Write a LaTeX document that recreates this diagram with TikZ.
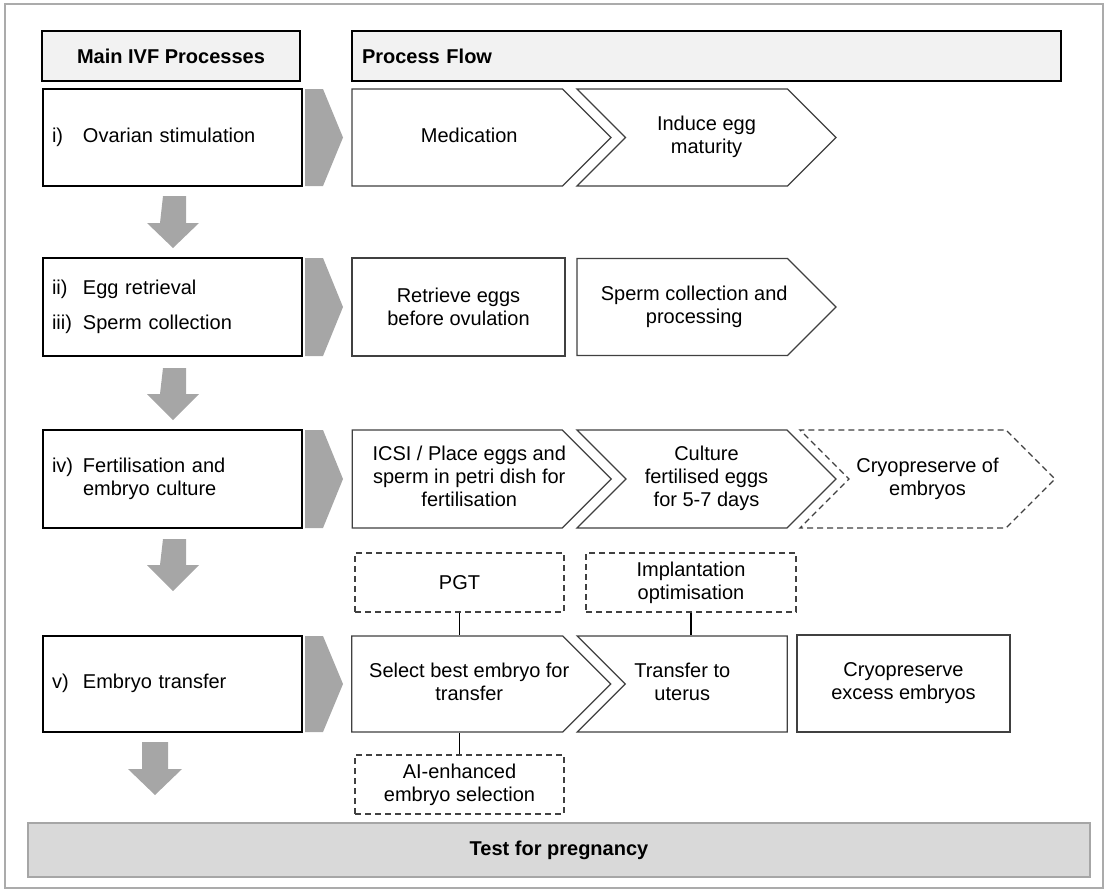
\documentclass[tikz,border=0pt]{standalone}
\usepackage{fontspec}
\setmainfont{Liberation Sans}
\usetikzlibrary{shapes.symbols}
\definecolor{arrowgray}{HTML}{A6A6A6}
\definecolor{framegray}{HTML}{ABABAB}
\definecolor{headfill}{HTML}{F2F2F2}
\definecolor{barfill}{HTML}{D9D9D9}
\definecolor{procgray}{HTML}{404040}
\newcommand\procfont{\fontsize{20pt}{23pt}\selectfont}
\newcommand\ctext[1]{\begin{tabular}{@{}c@{}}#1\end{tabular}}
\tikzset{
  mainbox/.style={draw=black,line width=1.8pt,inner xsep=9pt,text width=241pt,
    align=left,minimum height=97pt,font=\procfont},
  headbox/.style={draw=black,line width=1.8pt,fill=headfill,minimum height=50pt,
    font=\procfont\bfseries},
  procbox/.style={draw=procgray,line width=1.3pt,fill=white,minimum height=97pt,
    inner sep=0pt,font=\procfont},
  chevbox/.style={procbox,shape=signal,signal pointer angle=90,signal to=east,
    minimum width=259pt},
  notchbox/.style={chevbox,signal from=west},
  optbox/.style={draw=procgray,line width=1.3pt,dash pattern=on 6pt off 4pt,
    minimum width=209pt,minimum height=59pt,inner sep=0pt,align=center,font=\procfont},
  conn/.style={line width=1.5pt}
}
\begin{document}
\begin{tikzpicture}[x=1pt,y=-1pt]
\useasboundingbox (0,0) rectangle (1107,889);
\draw[framegray,line width=2pt] (5,4) rectangle (1103,888);
% column headers
\node[headbox,minimum width=258pt] (mainhd) at (171,56) {Main IVF Processes};
\node[headbox,minimum width=709pt,text width=689pt,align=left] (flowhd) at (706.5,56) {Process Flow};
% main processes
\node[mainbox] (ovar) at (172.5,137.5) {\begin{tabular}{@{}p{31pt}@{}l@{}}i) & Ovarian stimulation\end{tabular}};
\node[mainbox,minimum height=98pt] (retr) at (172.5,307) {\begin{tabular}{@{}p{31pt}@{}l@{}}ii) & Egg retrieval\\[12pt] iii) & Sperm collection\end{tabular}};
\node[mainbox,minimum height=98pt] (fert) at (172.5,479) {\begin{tabular}{@{}p{31pt}@{}l@{}}iv) & Fertilisation and\\ & embryo culture\end{tabular}};
\node[mainbox,minimum height=96pt] (embt) at (172.5,684) {\begin{tabular}{@{}p{31pt}@{}l@{}}v) & Embryo transfer\end{tabular}};
% grey pointers
\fill[arrowgray] (305,89) -- (323,89) -- (343,137.5) -- (323,186) -- (305,186) -- cycle;
\fill[arrowgray] (305,258) -- (323,258) -- (343,307) -- (323,356) -- (305,356) -- cycle;
\fill[arrowgray] (305,430) -- (323,430) -- (343,479) -- (323,528) -- (305,528) -- cycle;
\fill[arrowgray] (305,636) -- (323,636) -- (343,684) -- (323,732) -- (305,732) -- cycle;
% grey down arrows
\fill[arrowgray] (163,196) -- ++(23,0) -- ++(0,27) -- ++(13,0) -- ++(-26,25) -- ++(-26,-25) -- ++(13,0) -- cycle;
\fill[arrowgray] (163,368) -- ++(23,0) -- ++(0,26) -- ++(13,0) -- ++(-26,26) -- ++(-26,-26) -- ++(13,0) -- cycle;
\fill[arrowgray] (163,539) -- ++(23,0) -- ++(0,26) -- ++(13,0) -- ++(-26,26) -- ++(-26,-26) -- ++(13,0) -- cycle;
\fill[arrowgray] (142,742) -- ++(26,0) -- ++(0,27) -- ++(14,0) -- ++(-27,26) -- ++(-27,-26) -- ++(14,0) -- cycle;
% process flow
\node[chevbox] (medi) at (457.25,137.5) {\ctext{Medication}\hspace*{-24pt}};
\node[notchbox] (matu) at (706.5,137.5) {\ctext{Induce egg\\maturity}};
\node[procbox,align=center,minimum width=213pt,minimum height=98pt] (ovul) at (458.5,307) {Retrieve eggs\\before ovulation};
\node[chevbox] (sprm) at (682.25,307) {\ctext{Sperm collection and\\processing}\hspace*{-24pt}};
\node[chevbox,minimum height=98pt] (icsi) at (457.25,479) {\ctext{ICSI / Place eggs and\\sperm in petri dish for\\fertilisation}\hspace*{-24pt}};
\node[notchbox,minimum height=98pt] (cult) at (706.5,479) {\ctext{Culture\\fertilised eggs\\for 5-7 days}};
\node[notchbox,minimum height=98pt,dash pattern=on 6pt off 4pt,minimum width=255pt] (cryo) at (927.5,479) {\ctext{Cryopreserve of\\embryos}};
\node[optbox] (pgt) at (459.5,582.5) {PGT};
\node[optbox,minimum width=210pt] (impl) at (691,582.5) {Implantation\\optimisation};
\node[chevbox,minimum height=96pt] (best) at (457.25,684) {\ctext{Select best embryo for\\transfer}\hspace*{-24pt}};
\node[notchbox,signal to=nowhere,minimum width=210pt,minimum height=96pt] (uter) at (706.25,684) {\hspace*{-48pt}\ctext{Transfer to\\uterus}};
\node[procbox,align=center,minimum width=213pt,minimum height=97pt] (xcry) at (903.5,683.5) {Cryopreserve\\excess embryos};
\node[optbox] (aisel) at (459.5,784.5) {AI-enhanced\\embryo selection};
% links
\draw[conn] (pgt.south) -- (pgt.south |- best.north);
\draw[conn] (impl.south) -- (impl.south |- uter.north);
\draw[conn] (aisel.north) -- (aisel.north |- best.south);
% final step
\node[draw=arrowgray,line width=2pt,fill=barfill,minimum width=1062pt,minimum height=54pt,
  font=\procfont\bfseries] (preg) at (559,850) {Test for pregnancy};
\end{tikzpicture}
\end{document}
